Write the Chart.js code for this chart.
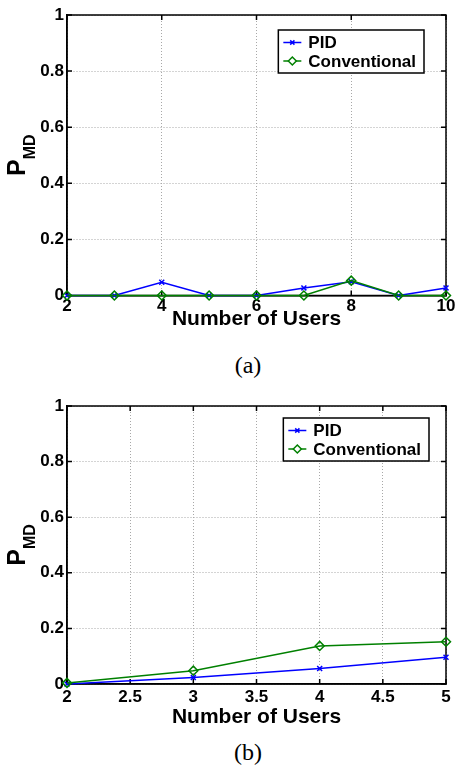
<!DOCTYPE html>
<html lang="en">
<head>
<meta charset="UTF-8">
<title>P_MD vs Number of Users</title>
<script src="https://cdn.jsdelivr.net/npm/chart.js@4.4.0/dist/chart.umd.min.js"></script>
<style>
  body { margin: 0; background: #fff; width: 456px; height: 765px; position: relative; overflow: hidden; }
  .panel { position: absolute; left: 0; }
  .caption { position: absolute; left: 198px; width: 100px; text-align: center;
             font-family: "Liberation Serif", "Times New Roman", serif; font-size: 24px; line-height: 24px; color: #000; }
</style>
</head>
<body>

<canvas id="chartA" class="panel" width="456" height="340" style="top:0px"></canvas>
<div class="caption" style="top:353px">(a)</div>
<canvas id="chartB" class="panel" width="456" height="340" style="top:391px"></canvas>
<div class="caption" style="top:740px">(b)</div>

<script>
    // data
    const seriesNames = ['PID', 'Conventional'];

    const usersA = [2, 3, 4, 5, 6, 7, 8, 9, 10];
    const pidA   = [0, 0, 0.047, 0, 0, 0.027, 0.049, 0, 0.027];
    const convA  = [0, 0, 0, 0, 0, 0, 0.053, 0, 0];

    const usersB = [2, 3, 4, 5];
    const pidB   = [0, 0.023, 0.056, 0.096];
    const convB  = [0.004, 0.048, 0.137, 0.152];

    const xTicksA = [2, 4, 6, 8, 10];
    const xTicksB = [2, 2.5, 3, 3.5, 4, 4.5, 5];
    const yTicks  = [0, 0.2, 0.4, 0.6, 0.8, 1];

    const FONT = '"Liberation Sans", Arial, sans-serif';

    // box around the axes + inward tick marks, like matlab
    const frame = {
        id: 'frame',
        beforeDatasetsDraw(chart) {
            const { ctx, chartArea: a, scales: { x, y } } = chart;
            ctx.save();
            ctx.strokeStyle = '#000';
            ctx.lineWidth = 1.5;
            ctx.strokeRect(a.left, a.top, a.right - a.left, a.bottom - a.top);
            ctx.beginPath();
            x.ticks.forEach(t => {
                const px = x.getPixelForValue(t.value);
                ctx.moveTo(px, a.bottom); ctx.lineTo(px, a.bottom - 5);
                ctx.moveTo(px, a.top);    ctx.lineTo(px, a.top + 5);
            });
            y.ticks.forEach(t => {
                const py = y.getPixelForValue(t.value);
                ctx.moveTo(a.left, py);  ctx.lineTo(a.left + 5, py);
                ctx.moveTo(a.right, py); ctx.lineTo(a.right - 5, py);
            });
            ctx.stroke();
            ctx.restore();
        }
    };

    // y label P with subscript MD
    const yLabel = {
        id: 'yLabel',
        afterDraw(chart) {
            const { ctx, chartArea: a } = chart;
            ctx.save();
            ctx.fillStyle = '#000';
            ctx.textBaseline = 'alphabetic';
            ctx.textAlign = 'left';
            ctx.font = 'bold 25px ' + FONT;
            const wP = ctx.measureText('P').width;
            ctx.font = 'bold 16px ' + FONT;
            const wS = ctx.measureText('MD').width;
            const cy = (a.top + a.bottom) / 2;
            ctx.translate(25, cy + (wP + wS) / 2);
            ctx.rotate(-Math.PI / 2);
            ctx.font = 'bold 25px ' + FONT;
            ctx.fillText('P', 0, 0);
            ctx.font = 'bold 16px ' + FONT;
            ctx.fillText('MD', wP, 10);
            ctx.restore();
        }
    };

    // boxed legend in the upper right, line sample with marker in the middle
    const boxLegend = {
        id: 'boxLegend',
        afterDraw(chart, args, opts) {
            const { ctx, chartArea: a } = chart;
            const ds = chart.data.datasets;
            ctx.save();
            ctx.font = 'bold 17px ' + FONT;
            const textW = Math.max(...ds.map(d => ctx.measureText(d.label).width));
            const w = 30 + textW + 8;
            const h = 43;
            const left = a.right - opts.right - w;
            const top = a.top + opts.top;
            ctx.fillStyle = '#fff';
            ctx.fillRect(left, top, w, h);
            ctx.strokeStyle = '#000';
            ctx.lineWidth = 1.5;
            ctx.strokeRect(left, top, w, h);
            ds.forEach((d, i) => {
                const cy = top + 12.5 + i * 18.5;
                ctx.strokeStyle = d.borderColor;
                ctx.lineWidth = 1.5;
                ctx.beginPath();
                ctx.moveTo(left + 5, cy);
                ctx.lineTo(left + 23, cy);
                ctx.stroke();
                ctx.fillStyle = '#fff';
                Chart.helpers.drawPoint(ctx, {
                    pointStyle: d.pointStyle, radius: d.pointRadius - 0.5,
                    borderWidth: 1.2, rotation: 0
                }, left + 14, cy);
                ctx.fillStyle = '#000';
                ctx.textBaseline = 'middle';
                ctx.fillText(d.label, left + 30, cy + 1);
            });
            ctx.restore();
        }
    };

    function makeChart(id, users, pid, conv, xTicks, opt) {
        return new Chart(document.getElementById(id), {
            type: 'line',
            data: {
                datasets: [{
                    label: seriesNames[0],
                    data: users.map((u, i) => ({ x: u, y: pid[i] })),
                    borderColor: '#0000ff',
                    backgroundColor: '#0000ff',
                    borderWidth: 1.5,
                    pointStyle: 'crossRot',
                    pointRadius: 3.5,
                    pointBorderWidth: 1.5,
                    order: 1,
                    clip: false
                }, {
                    label: seriesNames[1],
                    data: users.map((u, i) => ({ x: u, y: conv[i] })),
                    borderColor: '#008000',
                    backgroundColor: 'rgba(0,0,0,0)',
                    borderWidth: 1.5,
                    pointStyle: 'rectRot',
                    pointRadius: 4.5,
                    pointBorderWidth: 1.5,
                    order: 0,
                    clip: false
                }]
            },
            options: {
                responsive: false,
                animation: false,
                devicePixelRatio: 1,
                layout: { padding: { top: 15, right: 10, left: 0, bottom: 0 } },
                plugins: {
                    legend: { display: false },
                    tooltip: { enabled: false },
                    boxLegend: opt.legend
                },
                scales: {
                    x: {
                        type: 'linear',
                        min: xTicks[0],
                        max: xTicks[xTicks.length - 1],
                        afterBuildTicks: s => { s.ticks = xTicks.map(v => ({ value: v })); },
                        afterFit: s => { s.height = opt.xHeight; s.paddingLeft = 0; s.paddingRight = 0; },
                        ticks: {
                            padding: opt.tickPad, color: '#000', maxRotation: 0, autoSkip: false,
                            font: { family: FONT, size: 17, weight: 'bold' },
                            callback: v => String(v)
                        },
                        grid: { color: '#a8a8a8', lineWidth: 1, drawTicks: false },
                        border: { display: true, color: '#000', width: 1.5, dash: [1, 2] },
                        title: {
                            display: true, text: 'Number of Users', color: '#000',
                            font: { family: FONT, size: 21, weight: 'bold' },
                            padding: { top: 0, bottom: opt.titlePad }
                        }
                    },
                    y: {
                        type: 'linear',
                        min: 0,
                        max: 1,
                        afterBuildTicks: s => { s.ticks = yTicks.map(v => ({ value: v })); },
                        afterFit: s => { s.width = 67; s.paddingTop = 0; s.paddingBottom = 0; },
                        ticks: {
                            padding: 3, color: '#000',
                            font: { family: FONT, size: 17, weight: 'bold' },
                            callback: v => String(v)
                        },
                        grid: { color: '#a8a8a8', lineWidth: 1, drawTicks: false },
                        border: { display: true, color: '#000', width: 1.5, dash: [1, 2] }
                    }
                }
            },
            plugins: [frame, yLabel, boxLegend]
        });
    }

    makeChart('chartA', usersA, pidA, convA, xTicksA,
        { xHeight: 44.5, tickPad: 1, titlePad: 8, legend: { right: 22, top: 15 } });
    makeChart('chartB', usersB, pidB, convB, xTicksB,
        { xHeight: 47, tickPad: 3, titlePad: 1, legend: { right: 17, top: 12 } });
</script>
</body>
</html>
